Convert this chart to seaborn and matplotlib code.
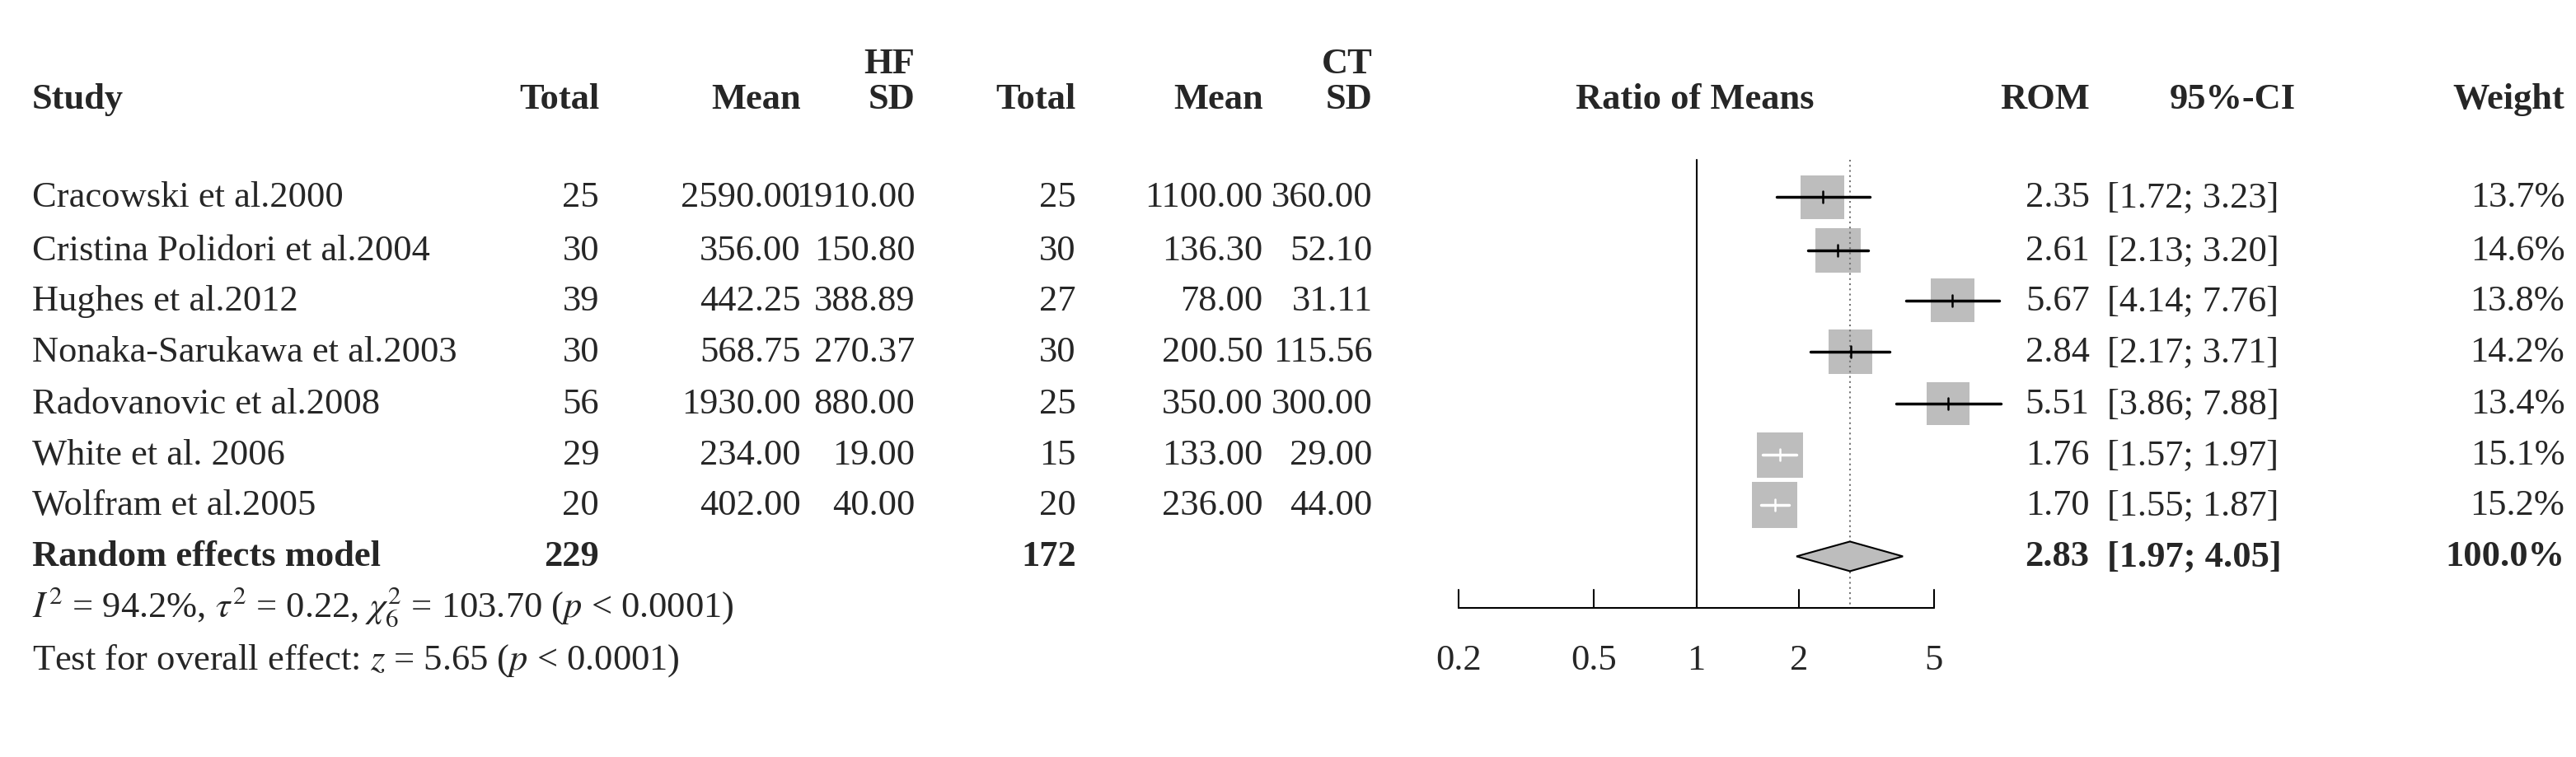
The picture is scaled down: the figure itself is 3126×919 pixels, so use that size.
import numpy as np
import pandas as pd
import matplotlib
matplotlib.use("Agg")
import matplotlib.pyplot as plt
import seaborn as sns

studies = ["Cracowski et al.2000", "Cristina Polidori et al.2004", "Hughes et al.2012",
           "Nonaka-Sarukawa et al.2003", "Radovanovic et al.2008", "White et al. 2006",
           "Wolfram et al.2005"]
hf_total = [25, 30, 39, 30, 56, 29, 20]
hf_mean = ["2590.00", "356.00", "442.25", "568.75", "1930.00", "234.00", "402.00"]
hf_sd = ["1910.00", "150.80", "388.89", "270.37", "880.00", "19.00", "40.00"]
ct_total = [25, 30, 27, 30, 25, 15, 20]
ct_mean = ["1100.00", "136.30", "78.00", "200.50", "350.00", "133.00", "236.00"]
ct_sd = ["360.00", "52.10", "31.11", "115.56", "300.00", "29.00", "44.00"]
rom = [2.35, 2.61, 5.67, 2.84, 5.51, 1.76, 1.70]
lo = [1.72, 2.13, 4.14, 2.17, 3.86, 1.57, 1.55]
hi = [3.23, 3.20, 7.76, 3.71, 7.88, 1.97, 1.87]
weight = [13.7, 14.6, 13.8, 14.2, 13.4, 15.1, 15.2]
re_est, re_lo, re_hi = 2.83, 1.97, 4.05
tick_vals = [0.2, 0.5, 1, 2, 5]
tick_labels = ["0.2", "0.5", "1", "2", "5"]

sns.set_style("white")
plt.rcParams["font.family"] = ["Liberation Serif", "DejaVu Serif"]
plt.rcParams["mathtext.fontset"] = "stix"

W, H = 3126, 920
S = W / 1599.0
FS = 32
fig = plt.figure(figsize=(W / 100, H / 100), dpi=100)

def T(xv, yv, s, ha="right", bold=False, size=FS):
    fig.text(xv * S / W, 1 - yv * S / H, s, ha=ha, va="center", fontsize=size,
             fontweight="bold" if bold else "normal")

# header
T(568, 40, "HF", bold=True); T(852, 40, "CT", bold=True)
hdr = [(20, "Study", "left"), (372, "Total", "right"), (497, "Mean", "right"), (568, "SD", "right"),
       (668, "Total", "right"), (784, "Mean", "right"), (852, "SD", "right"),
       (1052, "Ratio of Means", "center"), (1297, "ROM", "right"), (1425, "95%-CI", "right"),
       (1592, "Weight", "right")]
for x, s, ha in hdr:
    T(x, 62, s, ha=ha, bold=True)

rows_y = [123, 156, 187, 219, 251, 283, 314]
for i, y in enumerate(rows_y):
    T(20, y, studies[i], ha="left")
    T(372, y, str(hf_total[i])); T(497, y, hf_mean[i]); T(568, y, hf_sd[i])
    T(668, y, str(ct_total[i])); T(784, y, ct_mean[i]); T(852, y, ct_sd[i])
    T(1297, y, f"{rom[i]:.2f}")
    T(1308, y, f"[{lo[i]:.2f}; {hi[i]:.2f}]", ha="left")
    T(1592, y, f"{weight[i]:.1f}%")

T(20, 346, "Random effects model", ha="left", bold=True)
T(372, 346, str(sum(hf_total)), bold=True)
T(668, 346, str(sum(ct_total)), bold=True)
T(1297, 346, f"{re_est:.2f}", bold=True)
T(1308, 346, f"[{re_lo:.2f}; {re_hi:.2f}]", ha="left", bold=True)
T(1592, 346, "100.0%", bold=True)
T(20, 377, r"$I^2$ = 94.2%, $\tau^2$ = 0.22, $\chi^2_6$ = 103.70 ($p$ < 0.0001)", ha="left")
T(20, 410, r"Test for overall effect: $z$ = 5.65 ($p$ < 0.0001)", ha="left")

# forest axes (x in log units, y in real pixel rows)
ax_l, ax_r = 1600, 2600
ax = fig.add_axes([ax_l / W, 0, (ax_r - ax_l) / W, 1])
x1_px, dec = 1053 * S, 211 * S
ax.set_xscale("log")
ax.set_xlim(10 ** ((ax_l - x1_px) / dec), 10 ** ((ax_r - x1_px) / dec))
ax.set_ylim(H, 0)
ax.axis("off")

ry = np.array(rows_y) * S
df = pd.DataFrame({"rom": rom, "y": ry, "w": weight})
sns.scatterplot(data=df, x="rom", y="y", size="w", sizes=(min(weight) * 105, max(weight) * 105),
                marker="s", color="#bdbdbd", edgecolor="none", legend=False, ax=ax, zorder=2)
for i in range(len(rom)):
    c = "white" if (lo[i] > np.exp(np.log(rom[i]) - 0.13)) else "black"
    ax.plot([lo[i], hi[i]], [ry[i], ry[i]], color=c, lw=2.5, zorder=3)
    ax.plot([rom[i], rom[i]], [ry[i] - 7, ry[i] + 7], color=c, lw=1.8, zorder=3)

ax.plot([1, 1], [100 * S, 378 * S], color="black", lw=1.5)
ax.plot([re_est, re_est], [100 * S, 378 * S], color="#777777", lw=1.5, ls=(0, (1, 2)))
yd = 346 * S
ax.fill([re_lo, re_est, re_hi, re_est], [yd, yd - 18, yd, yd + 18], facecolor="#bdbdbd",
        edgecolor="black", lw=1.5, zorder=3)
ya = 378 * S
ax.plot([tick_vals[0], tick_vals[-1]], [ya, ya], color="black", lw=1.5)
for v, l in zip(tick_vals, tick_labels):
    ax.plot([v, v], [ya, ya - 22], color="black", lw=1.5)
    ax.text(v, 410 * S, l, ha="center", va="center", fontsize=FS)

fig.savefig("out.png", dpi=100, facecolor="white")
